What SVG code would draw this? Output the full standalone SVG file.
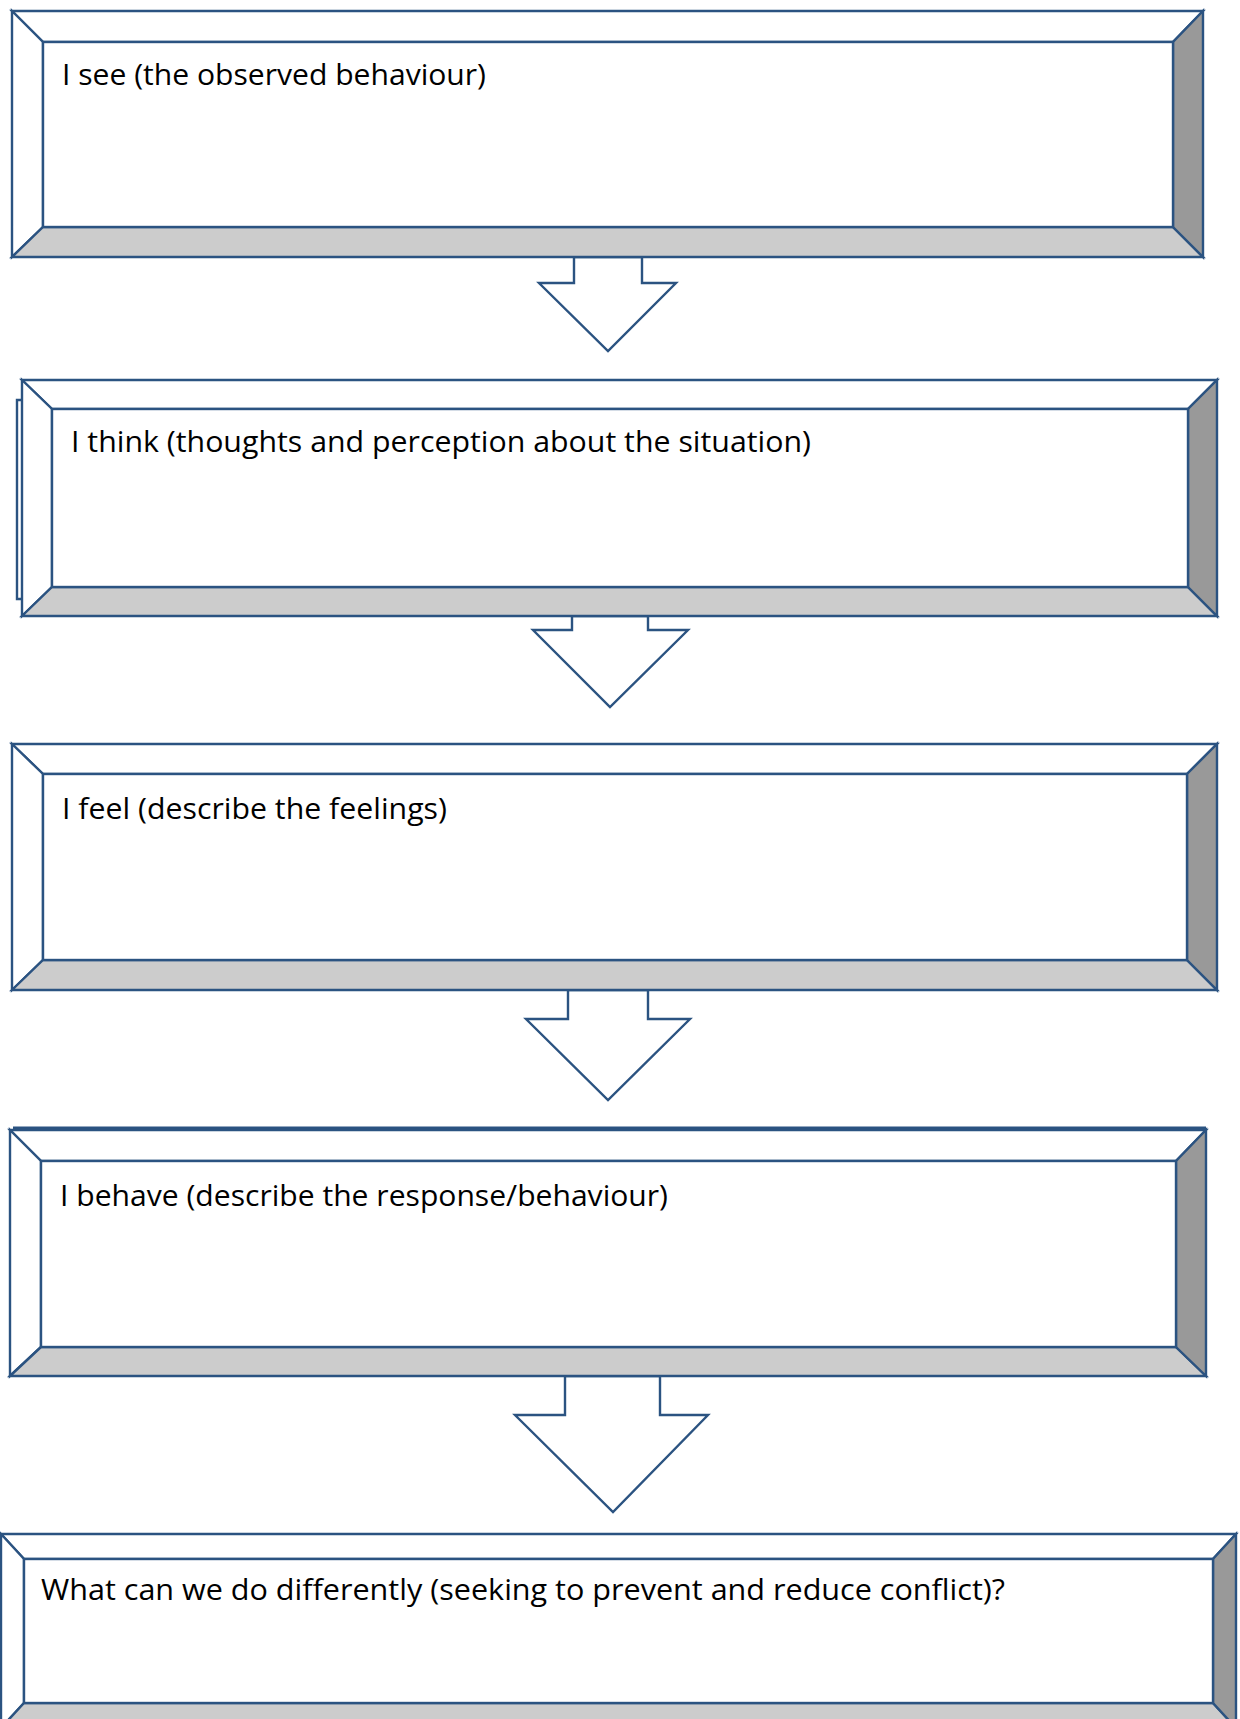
<svg xmlns="http://www.w3.org/2000/svg" width="1240" height="1719" viewBox="0 0 1240 1719">
  <style>
    .edge { stroke: #2B5381; stroke-width: 2.4; stroke-linejoin: miter; }
    .face { fill: #FFFFFF; }
    .lite { fill: #FFFFFF; }
    .shade { fill: #CCCCCC; }
    .dark { fill: #999999; }
    .label { font-family: "Open Sans", "Noto Sans", "DejaVu Sans", sans-serif; font-size: 29px; fill: #000000; }
    .arrow { fill: #FFFFFF; stroke: #2B5381; stroke-width: 2.4; stroke-linejoin: miter; }
  </style>
  <rect width="1240" height="1719" fill="#FFFFFF"/>

  <!-- flow arrows between the steps -->
  <g id="connectors">
    <polygon class="arrow" points="574,257 642,257 642,283 676,283 608,351 539,283 574,283"/>
    <polygon class="arrow" points="572,616 648,616 648,630 688,630 610,707 533,630 572,630"/>
    <polygon class="arrow" points="568,990 648,990 648,1019 690,1019 608,1100 526,1019 568,1019"/>
    <polygon class="arrow" points="565,1376 660,1376 660,1415 708,1415 613,1512 515,1415 565,1415"/>
  </g>

  <!-- step 1 -->
  <g id="node-see" class="edge">
    <polygon class="lite" points="12,11 1203,11 1173,42 43,42"/>
    <polygon class="lite" points="12,11 43,42 43,227 12,257"/>
    <polygon class="shade" points="12,257 43,227 1173,227 1203,257"/>
    <polygon class="dark" points="1203,11 1203,257 1173,227 1173,42"/>
    <rect class="face" x="43" y="42" width="1130" height="185"/>
    <text class="label" x="62" y="85" stroke="none" textLength="424" lengthAdjust="spacingAndGlyphs">I see (the observed behaviour)</text>
  </g>

  <!-- step 2 -->
  <g id="node-think" class="edge">
    <polyline fill="none" points="22,400 17,400 17,599 22,599"/>
    <polygon class="lite" points="22,380 1217,380 1188,409 52,409"/>
    <polygon class="lite" points="22,380 52,409 52,587 22,616"/>
    <polygon class="shade" points="22,616 52,587 1188,587 1217,616"/>
    <polygon class="dark" points="1217,380 1217,616 1188,587 1188,409"/>
    <rect class="face" x="52" y="409" width="1136" height="178"/>
    <text class="label" x="71" y="452" stroke="none" textLength="740" lengthAdjust="spacingAndGlyphs">I think (thoughts and perception about the situation)</text>
  </g>

  <!-- step 3 -->
  <g id="node-feel" class="edge">
    <polygon class="lite" points="12,744 1217,744 1187,774 43,774"/>
    <polygon class="lite" points="12,744 43,774 43,960 12,990"/>
    <polygon class="shade" points="12,990 43,960 1187,960 1217,990"/>
    <polygon class="dark" points="1217,744 1217,990 1187,960 1187,774"/>
    <rect class="face" x="43" y="774" width="1144" height="186"/>
    <text class="label" x="62" y="819" stroke="none" textLength="385" lengthAdjust="spacingAndGlyphs">I feel (describe the feelings)</text>
  </g>

  <!-- step 4 -->
  <g id="node-behave" class="edge">
    <line x1="13" y1="1128" x2="1206" y2="1128" stroke-width="3"/>
    <polygon class="lite" points="10,1130 1206,1130 1176,1161 41,1161"/>
    <polygon class="lite" points="10,1130 41,1161 41,1347 10,1376"/>
    <polygon class="shade" points="10,1376 41,1347 1176,1347 1206,1376"/>
    <polygon class="dark" points="1206,1130 1206,1376 1176,1347 1176,1161"/>
    <rect class="face" x="41" y="1161" width="1135" height="186"/>
    <text class="label" x="60" y="1206" stroke="none" textLength="608" lengthAdjust="spacingAndGlyphs">I behave (describe the response/behaviour)</text>
  </g>

  <!-- step 5 -->
  <g id="node-differently" class="edge">
    <polygon class="lite" points="1,1534 1236,1534 1213,1559 24,1559"/>
    <polygon class="lite" points="1,1534 24,1559 24,1703 1,1728"/>
    <polygon class="shade" points="1,1728 24,1703 1213,1703 1236,1728"/>
    <polygon class="dark" points="1236,1534 1236,1728 1213,1703 1213,1559"/>
    <rect class="face" x="24" y="1559" width="1189" height="144"/>
    <text class="label" x="41" y="1600" stroke="none" textLength="964" lengthAdjust="spacingAndGlyphs">What can we do differently (seeking to prevent and reduce conflict)?</text>
  </g>
</svg>
